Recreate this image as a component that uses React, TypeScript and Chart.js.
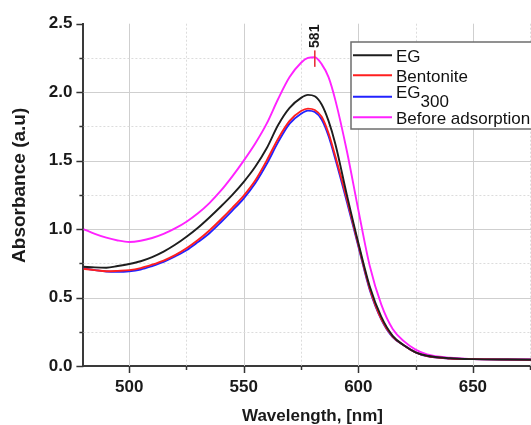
import React, { useEffect, useRef } from 'react';
import { Chart, registerables } from 'chart.js';

Chart.register(...registerables);

// ---- data ----
const wavelengths = [
  480, 485, 490, 495, 500, 505, 510, 515, 520, 525, 530, 535, 540, 545, 550, 555, 560, 565, 570, 575,
  578, 581, 584, 587, 590,
  595, 600, 605, 610, 615, 620, 625, 630,
  640, 650, 665, 680,
];
const egValues = [
  0.725, 0.72, 0.718, 0.73, 0.745, 0.765, 0.795, 0.835, 0.885, 0.944, 1.01, 1.085, 1.165, 1.25, 1.345, 1.455, 1.59, 1.76, 1.885, 1.958,
  1.98, 1.97, 1.91, 1.79, 1.62,
  1.25, 0.9, 0.58, 0.36, 0.22, 0.15, 0.1, 0.075,
  0.057, 0.05, 0.047, 0.046,
];
const bentoniteValues = [
  0.71, 0.7, 0.692, 0.695, 0.7, 0.715, 0.74, 0.77, 0.81, 0.86, 0.92, 0.99, 1.07, 1.155, 1.245, 1.355, 1.5, 1.66, 1.79, 1.862,
  1.88, 1.87, 1.82, 1.7, 1.53,
  1.22, 0.885, 0.565, 0.345, 0.215, 0.15, 0.1, 0.073,
  0.055, 0.05, 0.047, 0.046,
];
const eg300Values = [
  0.715, 0.7, 0.69, 0.688, 0.692, 0.705, 0.73, 0.76, 0.8, 0.845, 0.905, 0.97, 1.05, 1.135, 1.225, 1.335, 1.475, 1.635, 1.77, 1.842,
  1.865, 1.855, 1.8, 1.68, 1.51,
  1.2, 0.875, 0.555, 0.34, 0.21, 0.15, 0.1, 0.072,
  0.055, 0.05, 0.047, 0.046,
];
const beforeValues = [
  1.0, 0.965, 0.937, 0.917, 0.906, 0.915, 0.935, 0.965, 1.005, 1.054, 1.115, 1.19, 1.28, 1.385, 1.5, 1.625, 1.77, 1.95, 2.11, 2.215,
  2.25, 2.255, 2.205, 2.11, 1.94,
  1.57, 1.14, 0.73, 0.45, 0.27, 0.18, 0.12, 0.085,
  0.06, 0.05, 0.048, 0.047,
];
const seriesLabels = ['EG', 'Bentonite', 'EG', 'Before adsorption'];
const seriesSubscripts = ['', '', '300', ''];
const seriesColors = ['#1e1e1e', '#ff1f1f', '#2222ff', '#ff22ff'];

const xTickValues = [500, 525, 550, 575, 600, 625, 650, 675];
const yTickValues = [0, 0.25, 0.5, 0.75, 1.0, 1.25, 1.5, 1.75, 2.0, 2.25, 2.5];
const xMin = 480;
const xMax = 680;
const yMin = 0;
const yMax = 2.5;

const peakWavelength = 581;
const peakLabel = '581';
const peakValue = 2.25;

const xTitle = 'Wavelength, [nm]';
const yTitle = 'Absorbance (a.u)';

const FONT = '"Liberation Sans", Arial, Helvetica, sans-serif';

const isMajorX = (v: number) => v % 50 === 0;
const isMajorY = (v: number) => Math.abs(v * 2 - Math.round(v * 2)) < 1e-9;

const gridPlugin = {
  id: 'customGrid',
  beforeDatasetsDraw(chart: any) {
    const { ctx, chartArea } = chart;
    const xs = chart.scales.x;
    const ys = chart.scales.y;
    ctx.save();
    ctx.lineWidth = 1;
    xTickValues.forEach((v) => {
      const px = Math.round(xs.getPixelForValue(v)) + 0.5;
      const major = isMajorX(v);
      ctx.strokeStyle = major ? '#cfcfcf' : '#dcdcdc';
      ctx.setLineDash(major ? [] : [2, 2]);
      ctx.beginPath();
      ctx.moveTo(px, chartArea.top);
      ctx.lineTo(px, chartArea.bottom);
      ctx.stroke();
    });
    yTickValues.forEach((v) => {
      if (v <= yMin || v >= yMax) return;
      const py = Math.round(ys.getPixelForValue(v)) + 0.5;
      const major = isMajorY(v);
      ctx.strokeStyle = major ? '#cfcfcf' : '#dcdcdc';
      ctx.setLineDash(major ? [] : [2, 2]);
      ctx.beginPath();
      ctx.moveTo(chartArea.left, py);
      ctx.lineTo(chartArea.right, py);
      ctx.stroke();
    });
    ctx.restore();
  },
};

const decorPlugin = {
  id: 'decor',
  afterDraw(chart: any) {
    const { ctx, chartArea } = chart;
    const xs = chart.scales.x;
    const ys = chart.scales.y;
    ctx.save();
    // tick marks
    ctx.strokeStyle = '#333333';
    ctx.lineWidth = 1.5;
    xTickValues.forEach((v) => {
      const px = Math.round(xs.getPixelForValue(v)) + 0.5;
      const len = isMajorX(v) ? 7 : 4;
      ctx.beginPath();
      ctx.moveTo(px, chartArea.bottom);
      ctx.lineTo(px, chartArea.bottom + len);
      ctx.stroke();
    });
    yTickValues.forEach((v) => {
      const py = Math.round(ys.getPixelForValue(v)) + 0.5;
      const len = isMajorY(v) ? 7 : 4;
      ctx.beginPath();
      ctx.moveTo(chartArea.left, py);
      ctx.lineTo(chartArea.left - len, py);
      ctx.stroke();
    });

    // y title
    ctx.save();
    ctx.translate(20, (chartArea.top + chartArea.bottom) / 2 - 9.5);
    ctx.rotate(-Math.PI / 2);
    ctx.font = `bold 19px ${FONT}`;
    ctx.fillStyle = '#1a1a1a';
    ctx.textAlign = 'center';
    ctx.textBaseline = 'middle';
    ctx.fillText(yTitle, 0, 0);
    ctx.restore();

    // peak annotation
    const pkx = xs.getPixelForValue(peakWavelength);
    ctx.strokeStyle = '#e8303a';
    ctx.lineWidth = 1.6;
    ctx.beginPath();
    ctx.moveTo(pkx, ys.getPixelForValue(peakValue + 0.055));
    ctx.lineTo(pkx, ys.getPixelForValue(peakValue - 0.065));
    ctx.stroke();
    ctx.save();
    ctx.translate(pkx, ys.getPixelForValue(peakValue + 0.073));
    ctx.rotate(-Math.PI / 2);
    ctx.font = `bold 14px ${FONT}`;
    ctx.fillStyle = '#1a1a1a';
    ctx.textAlign = 'left';
    ctx.textBaseline = 'middle';
    ctx.fillText(peakLabel, 0, 0);
    ctx.restore();

    // legend
    const L = chartArea.left;
    const T = chartArea.top;
    const bx = L + 267.6;
    const by = T + 18.3;
    const bw = 205;
    const bh = 87;
    ctx.fillStyle = '#ffffff';
    ctx.fillRect(bx, by, bw, bh);
    ctx.strokeStyle = '#6e6e6e';
    ctx.lineWidth = 1.5;
    ctx.strokeRect(bx, by, bw, bh);
    const rowY = [T + 31.6, T + 51.6, T + 73, T + 93.6];
    ctx.font = `17px ${FONT}`;
    ctx.fillStyle = '#111111';
    ctx.textAlign = 'left';
    seriesLabels.forEach((lab, i) => {
      const ly = rowY[i];
      ctx.strokeStyle = seriesColors[i];
      ctx.lineWidth = 2;
      ctx.beginPath();
      ctx.moveTo(L + 269.6, ly);
      ctx.lineTo(L + 308.6, ly);
      ctx.stroke();
      const tx = L + 312.6;
      ctx.textBaseline = 'alphabetic';
      if (seriesSubscripts[i]) {
        ctx.fillText(lab, tx, ly + 1.5);
        const w = ctx.measureText(lab).width;
        ctx.fillText(seriesSubscripts[i], tx + w, ly + 10.5);
      } else {
        ctx.fillText(lab, tx, ly + 6.2);
      }
    });
    ctx.restore();
  },
};

export default function App() {
  const canvasRef = useRef<HTMLCanvasElement | null>(null);

  useEffect(() => {
    const canvas = canvasRef.current;
    if (!canvas) return;
    const valuesList = [egValues, bentoniteValues, eg300Values, beforeValues];
    const datasets = valuesList.map((vals, i) => ({
      label: seriesLabels[i] + seriesSubscripts[i],
      data: wavelengths.map((w, j) => ({ x: w, y: vals[j] })),
      borderColor: seriesColors[i],
      backgroundColor: seriesColors[i],
      borderWidth: 1.9,
      pointRadius: 0,
      cubicInterpolationMode: 'monotone' as const,
      fill: false,
    }));

    const chart = new Chart(canvas, {
      type: 'line',
      data: { datasets },
      plugins: [gridPlugin, decorPlugin],
      options: {
        animation: false,
        responsive: false,
        devicePixelRatio: 1,
        layout: { padding: { left: 0, right: 18.4, top: 23.7, bottom: 0 } },
        plugins: { legend: { display: false }, tooltip: { enabled: false } },
        scales: {
          x: {
            type: 'linear',
            min: xMin,
            max: xMax,
            afterBuildTicks: (scale: any) => {
              scale.ticks = xTickValues.map((v) => ({ value: v }));
            },
            afterFit: (scale: any) => {
              scale.height = 59;
            },
            ticks: {
              autoSkip: false,
              maxRotation: 0,
              padding: 11,
              color: '#1a1a1a',
              font: { family: FONT, size: 17, weight: 'bold' },
              callback: (v: any) => (isMajorX(Number(v)) ? String(v) : ''),
            },
            grid: { display: false, drawTicks: false },
            border: { display: true, color: '#3a3a3a', width: 2 },
            title: {
              display: true,
              text: xTitle,
              color: '#1a1a1a',
              font: { family: FONT, size: 17, weight: 'bold', lineHeight: 1 },
              padding: { top: 0, bottom: 0 },
            },
          },
          y: {
            type: 'linear',
            min: yMin,
            max: yMax,
            afterBuildTicks: (scale: any) => {
              scale.ticks = yTickValues.map((v) => ({ value: v }));
            },
            afterFit: (scale: any) => {
              scale.width = 83.4;
            },
            ticks: {
              autoSkip: false,
              padding: 11,
              color: '#1a1a1a',
              font: { family: FONT, size: 17, weight: 'bold' },
              callback: (v: any) => (isMajorY(Number(v)) ? Number(v).toFixed(1) : ''),
            },
            grid: { display: false, drawTicks: false },
            border: { display: true, color: '#3a3a3a', width: 2 },
          },
        },
      } as any,
    });
    return () => chart.destroy();
  }, []);

  return (
    <div
      style={{
        position: 'fixed',
        left: 0,
        top: 0,
        width: 531,
        height: 425,
        overflow: 'hidden',
        background: '#ffffff',
      }}
    >
      <canvas ref={canvasRef} width={560} height={425} style={{ display: 'block' }} />
    </div>
  );
}
